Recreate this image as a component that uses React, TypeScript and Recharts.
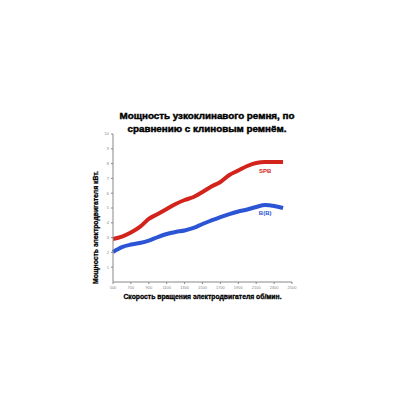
import React from 'react';
import { LineChart, Line, XAxis, YAxis, ReferenceDot } from 'recharts';

const rpm = [500, 600, 700, 800, 900, 1000, 1100, 1200, 1300, 1400, 1500, 1600, 1700, 1800, 1900, 2000, 2100, 2200, 2300, 2400];
const spb = [2.91, 3.07, 3.34, 3.72, 4.26, 4.59, 4.93, 5.27, 5.54, 5.74, 6.08, 6.45, 6.76, 7.23, 7.53, 7.84, 8.04, 8.1, 8.1, 8.1];
const bb = [2.03, 2.36, 2.53, 2.64, 2.8, 3.04, 3.24, 3.38, 3.48, 3.65, 3.92, 4.16, 4.39, 4.59, 4.76, 4.9, 5.07, 5.2, 5.14, 5.0];
const xTicks = [500, 700, 900, 1100, 1300, 1500, 1700, 1900, 2100, 2300, 2500];
const yTicks = [1, 2, 3, 4, 5, 6, 7, 8, 9, 10];
const seriesLabels = [
  { name: 'SPB', x: 2200, y: 7.5, color: '#d2231d' },
  { name: 'B(B)', x: 2200, y: 4.66, color: '#2b55d4' },
];

const data = rpm.map((r, i) => ({ rpm: r, spb: spb[i], bb: bb[i] }));

export default function App() {
  return (
    <div style={{ position: 'absolute', left: 0, top: 0, width: 400, height: 400, background: '#fff', fontFamily: '"Liberation Sans", Arial, sans-serif' }}>
      <div style={{ position: 'absolute', left: 0, top: 109, width: 414, textAlign: 'center', fontWeight: 'bold', fontSize: 9.8, lineHeight: '13px', color: '#000', WebkitTextStroke: '0.45px #000' }}>
        Мощность узкоклинавого ремня, по<br />сравнению с клиновым ремнём.
      </div>
      <LineChart width={400} height={400} data={data} margin={{ top: 134, right: 108, bottom: 108, left: 103 }}>
        <XAxis
          dataKey="rpm"
          type="number"
          domain={[500, 2500]}
          ticks={xTicks}
          height={10}
          stroke="#888"
          tickSize={2}
          tick={{ fontSize: 4, fill: '#888' }}
          label={{ value: 'Скорость вращения электродвигателя об/мин.', position: 'insideBottom', offset: -7, fontSize: 6.8, fontWeight: 'bold', fill: '#000', stroke: '#000', strokeWidth: 0.3 }}
        />
        <YAxis
          type="number"
          domain={[0, 10]}
          ticks={yTicks}
          width={10}
          stroke="#888"
          tickSize={2}
          tick={{ fontSize: 4, fill: '#888' }}
          label={{ value: 'Мощность электродвигателя кВт.', angle: -90, position: 'insideLeft', offset: -7, dy: 76, fontSize: 6.8, fontWeight: 'bold', fill: '#000', stroke: '#000', strokeWidth: 0.3 }}
        />
        <Line type="monotone" dataKey="spb" stroke="#d2231d" strokeWidth={4} dot={false} isAnimationActive={false} />
        <Line type="monotone" dataKey="bb" stroke="#2b55d4" strokeWidth={4} dot={false} isAnimationActive={false} />
        {seriesLabels.map((s) => (
          <ReferenceDot key={s.name} x={s.x} y={s.y} r={0} stroke="none" fill="none"
            label={{ value: s.name, position: 'center', fontSize: 6, fontWeight: 'bold', fill: s.color }} />
        ))}
      </LineChart>
    </div>
  );
}
